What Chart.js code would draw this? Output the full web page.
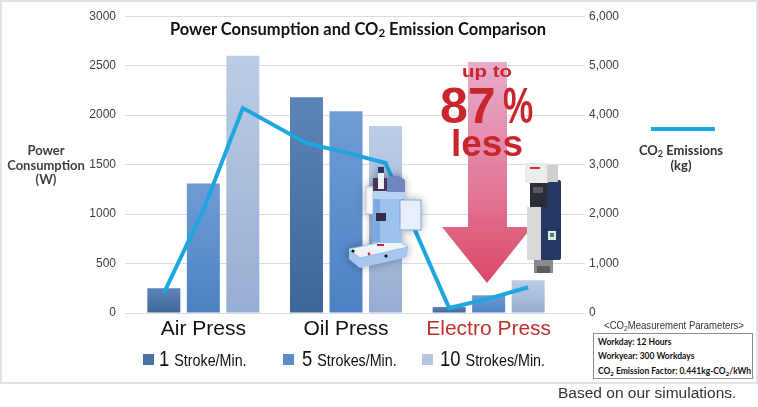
<!DOCTYPE html>
<html>
<head>
<meta charset="utf-8">
<script src="https://cdn.jsdelivr.net/npm/chart.js@4.4.1/dist/chart.umd.min.js"></script>
<style>
  html, body { margin: 0; padding: 0; background: #fff; }
  #wrap { position: relative; width: 758px; height: 407px; overflow: hidden; font-family: "Liberation Sans", Arial, sans-serif; }
  #frame { position: absolute; left: 0; top: 0; width: 758px; height: 384px; box-sizing: border-box; border: 2px solid #dfe3e8; }
  canvas { position: absolute; left: 0; top: 0; }
  svg.over { position: absolute; left: 0; top: 0; pointer-events: none; }
  .t { position: absolute; white-space: nowrap; }
  .lato { font-family: Lato, "Open Sans", sans-serif; font-weight: 700; }
  .red { color: #c9252c; font-weight: 700; }
  sub { font-size: 70%; vertical-align: -2px; line-height: 0; }
  .legend-item { position: absolute; top: 347px; height: 24px; line-height: 24px; white-space: nowrap; color: #111; }
  .legend-item .mark { position: absolute; top: 7px; width: 11px; height: 11px; }
  .legend-item .txt { display: inline-block; transform: scaleX(0.84); transform-origin: left center; }
  .legend-item .num { font-size: 22px; }
  .legend-item .unit { font-size: 17px; margin-left: 6px; }
</style>
</head>
<body>
<div id="wrap">
  <div id="frame"></div>
  <canvas id="chart" width="758" height="407"></canvas>

  <!-- reduction arrow -->
  <svg class="over" width="758" height="407">
    <defs>
      <linearGradient id="arrowFill" x1="0" y1="62" x2="0" y2="283" gradientUnits="userSpaceOnUse">
        <stop offset="0" stop-color="#e8accc"/>
        <stop offset="0.6" stop-color="#e27594"/>
        <stop offset="1" stop-color="#db4866"/>
      </linearGradient>
    </defs>
    <polygon points="468,62 507,62 507,227 532,227 487,283 442,227 468,227" fill="url(#arrowFill)"/>
  </svg>

  <canvas id="co2" width="758" height="407"></canvas>

  <div class="t lato" style="left:158px;top:19px;width:400px;text-align:center;font-size:16.5px;line-height:20px;color:#111;">Power Consumption and CO<sub>2</sub> Emission Comparison</div>
  <div class="t lato" style="left:0;top:143px;width:92px;text-align:center;font-size:13px;line-height:14.5px;color:#404040;">Power<br>Consumption<br>(W)</div>

  <div class="t" style="left:651px;top:127px;width:64px;height:3.5px;background:#1ea6df;"></div>
  <div class="t lato" style="left:621px;top:143px;width:120px;text-align:center;font-size:13px;line-height:14.5px;color:#333;">CO<sub>2</sub> Emissions<br>(kg)</div>

  <div class="t red" style="left:437px;top:62px;width:100px;text-align:center;font-size:17px;line-height:20px;transform:scaleX(1.2);">up to</div>
  <div class="t red" style="left:440px;top:81px;font-size:50px;line-height:50px;">87<span style="display:inline-block;margin-left:7px;transform:scaleX(0.68);transform-origin:left center;">%</span></div>
  <div class="t red" style="left:437px;top:124px;width:100px;text-align:center;font-size:37px;line-height:40px;">less</div>

  <!-- machine pictures, simplified -->
  <svg class="over" width="758" height="407">
    <defs>
      <filter id="glow" x="-30%" y="-30%" width="160%" height="160%">
        <feDropShadow dx="0" dy="0" stdDeviation="4" flood-color="#000" flood-opacity="0.35"/>
      </filter>
    </defs>
    <g filter="url(#glow)">
      <polygon points="349,249 396,239 408,247 407,257 360,268 349,259" fill="#a8c6ee"/>
      <polygon points="349,249 396,239 408,247 360,258" fill="#eef3fb" stroke="#8fb3e6" stroke-width="0.8"/>
      <rect x="372" y="190" width="30" height="53" fill="#9dc2ee"/>
      <rect x="372" y="196" width="8" height="46" fill="#7fa9e3"/>
      <rect x="368" y="186" width="36" height="13" fill="#b8d3f3"/>
      <rect x="376" y="213" width="10" height="8" fill="#3a2b45"/>
      <rect x="366" y="187" width="7" height="27" fill="#f4f7fb" stroke="#9aaabb" stroke-width="0.6"/>
      <rect x="373" y="178" width="18" height="13" fill="#4b3656"/>
      <path d="M387,192 L387,178 Q396,172 405,180 L405,192 Z" fill="#6f86c0"/>
      <rect x="378" y="172" width="6" height="17" fill="#f2f2f2"/>
      <rect x="378" y="167" width="6" height="6" fill="#2f3666"/>
      <rect x="400" y="200" width="21" height="30" fill="#e8eff8" stroke="#7aa6df" stroke-width="1"/>
      <circle cx="353" cy="251" r="1.6" fill="#111"/>
      <circle cx="369" cy="254" r="1.4" fill="#c0302c"/>
      <circle cx="386" cy="256" r="1.6" fill="#111"/>
      <rect x="377" y="244" width="7" height="2" fill="#b0302c"/>
    </g>
    <g>
      <rect x="540" y="180" width="21" height="80" rx="2" fill="#243a63"/>
      <rect x="525" y="163" width="23" height="20" fill="#ececec"/>
      <rect x="547" y="165" width="11" height="17" fill="#cfcfcf"/>
      <rect x="530" y="167" width="10" height="2" fill="#c33"/>
      <rect x="530" y="183" width="17" height="24" fill="#2a2d33"/>
      <rect x="533" y="187" width="10" height="6" fill="#555a63"/>
      <rect x="527" y="207" width="14" height="53" fill="#d9d9d9"/>
      <rect x="548" y="231" width="8" height="9" fill="#e8e8e8"/>
      <rect x="550" y="233" width="4" height="4" fill="#2e8b6b"/>
      <rect x="534" y="260" width="19" height="13" fill="#8a8a8a"/>
      <rect x="537" y="266" width="13" height="7" fill="#5d5d5d"/>
    </g>
  </svg>

  <div id="legend"></div>

  <div class="t" style="left:561px;top:318.5px;width:226px;text-align:center;font-size:11px;line-height:13px;color:#333;transform:scaleX(0.87);">&lt;CO<sub>2</sub>Measurement Parameters&gt;</div>
  <div class="t lato" style="left:593px;top:333px;width:160px;height:46px;box-sizing:border-box;border:1px solid #8c8c8c;background:#fff;padding:0.5px 0 0 4px;font-size:8.5px;line-height:14.5px;color:#111;">Workday: 12 Hours<br>Workyear: 300 Workdays<br>CO<sub>2</sub> Emission Factor: 0.441kg-CO<sub>2</sub>/kWh</div>

  <div class="t" style="left:558px;top:384px;font-size:15.5px;line-height:18px;color:#333;">Based on our simulations.</div>
</div>

<script>
// categories and values
var categories = ['Air Press', 'Oil Press', 'Electro Press'];
var categoryColors = ['#111111', '#111111', '#c0302c'];
var strokeCounts = ['1', '5', '10'];
var strokeUnits = ['Stroke/Min.', 'Strokes/Min.', 'Strokes/Min.'];

var power1 = [250, 2180, 60];     // W, 1 stroke/min
var power5 = [1310, 2040, 180];   // W, 5 strokes/min
var power10 = [2600, 1890, 330];  // W, 10 strokes/min

// kg CO2, one point per bar (air 1/5/10, oil 1/5/10, electro 1/5/10)
var co2Emissions = [400, 2080, 4140, 3430, 3240, 3030, 100, 290, 520];

var powerTicks = [0, 500, 1000, 1500, 2000, 2500, 3000];
var co2Ticks = [0, 1000, 2000, 3000, 4000, 5000, 6000];

var BAR_TOP = ['#5c84b6', '#6f9cd6', '#bccde6'];
var BAR_BOTTOM = ['#3f6698', '#4c82c3', '#96add2'];
var LEGEND_COLORS = ['#4a72a5', '#5b8ccc', '#b5c6e0'];
var LINE_COLOR = '#1ea6df';
var GRID = '#d9dde3';
var CAT_PCT = 0.8306;
var BAR_PCT = 0.8355;
// plot box shared by both canvases
var PAD = { left: 132, right: 198, top: 16, bottom: 94 };

function barFill(i) {
  return function(ctx) {
    var chart = ctx.chart;
    var area = chart.chartArea;
    if (!area || ctx.type !== 'data') return BAR_BOTTOM[i];
    var top = chart.scales.y.getPixelForValue(ctx.raw);
    var g = chart.ctx.createLinearGradient(0, top, 0, area.bottom);
    g.addColorStop(0, BAR_TOP[i]);
    g.addColorStop(1, BAR_BOTTOM[i]);
    return g;
  };
}

var tickFont = { family: 'Liberation Sans', size: 12 };

new Chart(document.getElementById('chart'), {
  type: 'bar',
  data: {
    labels: categories,
    datasets: [
      { label: strokeCounts[0] + ' ' + strokeUnits[0], data: power1, backgroundColor: barFill(0) },
      { label: strokeCounts[1] + ' ' + strokeUnits[1], data: power5, backgroundColor: barFill(1) },
      { label: strokeCounts[2] + ' ' + strokeUnits[2], data: power10, backgroundColor: barFill(2) }
    ]
  },
  options: {
    responsive: false,
    animation: false,
    datasets: { bar: { categoryPercentage: CAT_PCT, barPercentage: BAR_PCT } },
    layout: { padding: { top: PAD.top, left: 0, right: 0, bottom: 0 } },
    plugins: { legend: { display: false }, tooltip: { enabled: false } },
    scales: {
      x: {
        grid: { display: false, drawTicks: false },
        border: { display: false },
        ticks: {
          color: function(c) { return categoryColors[c.index]; },
          font: { family: 'Liberation Sans', size: 21 },
          padding: 4
        },
        afterFit: function(s) { s.height = PAD.bottom; }
      },
      y: {
        position: 'left',
        min: powerTicks[0], max: powerTicks[powerTicks.length - 1],
        ticks: {
          stepSize: powerTicks[1] - powerTicks[0], color: '#404040', font: tickFont, padding: 9,
          callback: function(v) { return String(v); }
        },
        grid: { color: GRID, lineWidth: 1, drawTicks: true, tickLength: 7 },
        border: { display: false },
        afterFit: function(s) { s.width = PAD.left; }
      },
      y1: {
        position: 'right',
        min: co2Ticks[0], max: co2Ticks[co2Ticks.length - 1],
        ticks: {
          stepSize: co2Ticks[1] - co2Ticks[0], color: '#404040', font: tickFont, padding: 4,
          callback: function(v) { return v.toLocaleString('en-US'); }
        },
        grid: { drawOnChartArea: false, color: GRID, lineWidth: 1, drawTicks: true, tickLength: 25 },
        border: { display: false },
        afterFit: function(s) { s.width = PAD.right; }
      }
    }
  }
});

// CO2 line: points sit on the bar centres of each group, drawn on an overlay
// chart with the same plot box and a linear x scale spanning the 3 categories
var co2Points = co2Emissions.map(function(v, i) {
  var group = Math.floor(i / 3), k = i % 3;
  return { x: group + (k - 1) * CAT_PCT / 3, y: v };
});

new Chart(document.getElementById('co2'), {
  type: 'line',
  data: {
    datasets: [{
      label: 'CO2 Emissions (kg)', data: co2Points,
      borderColor: LINE_COLOR, borderWidth: 4, pointRadius: 0, tension: 0, fill: false
    }]
  },
  options: {
    responsive: false,
    animation: false,
    layout: { padding: PAD },
    plugins: { legend: { display: false }, tooltip: { enabled: false } },
    scales: {
      x: { type: 'linear', display: false, offset: false, min: -0.5, max: categories.length - 0.5 },
      y: { display: false, min: co2Ticks[0], max: co2Ticks[co2Ticks.length - 1] }
    }
  }
});

// legend with the big stroke count and the smaller unit text
var legendMark = [143, 283, 422];
var legendText = [158.5, 302, 440];
var h = '';
strokeCounts.forEach(function(n, i) {
  h += '<div class="legend-item" style="left:' + legendText[i] + 'px">' +
    '<span class="mark" style="left:' + (legendMark[i] - legendText[i]) + 'px;background:' + LEGEND_COLORS[i] + '"></span>' +
    '<span class="txt"><span class="num">' + n + '</span><span class="unit">' + strokeUnits[i] + '</span></span></div>';
});
document.getElementById('legend').innerHTML = h;
</script>
</body>
</html>
